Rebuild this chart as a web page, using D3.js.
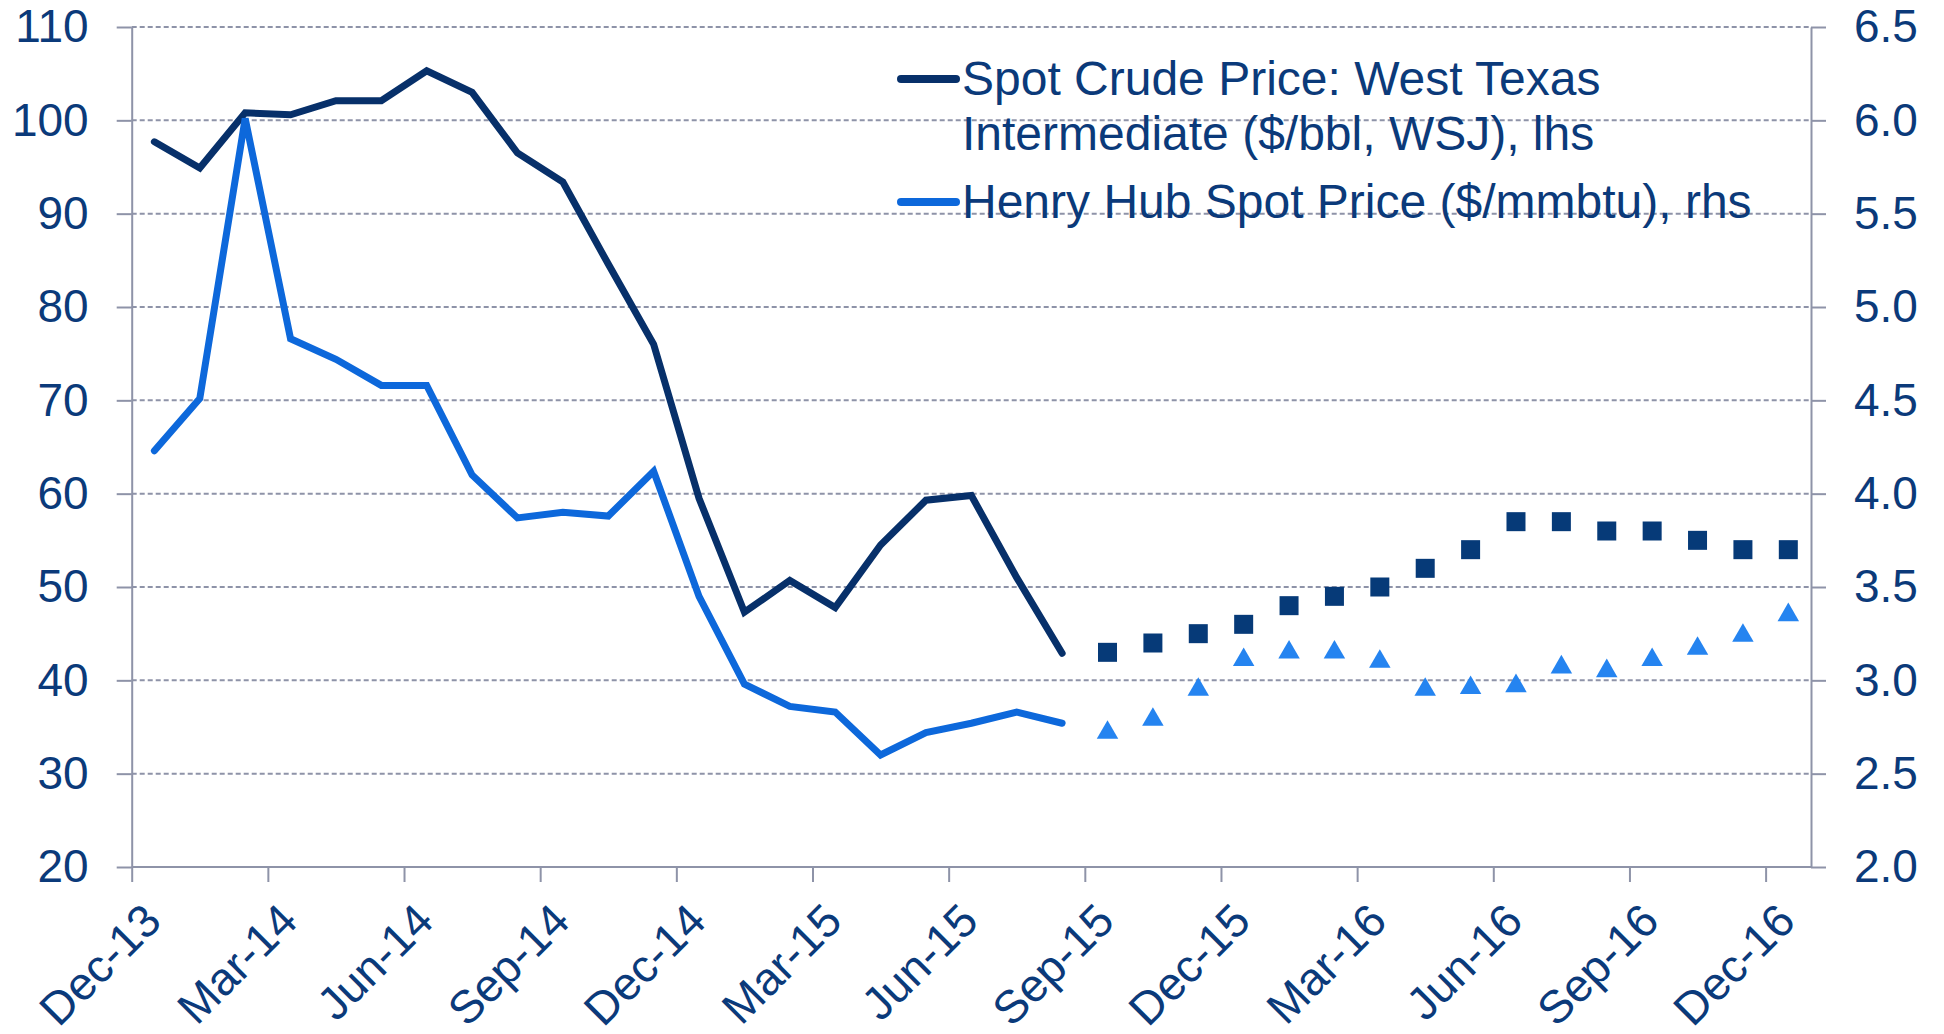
<!DOCTYPE html>
<html>
<head>
<meta charset="utf-8">
<script src="https://cdn.jsdelivr.net/npm/d3@7"></script>
<style>
  html, body { margin: 0; padding: 0; background: #fff; }
  svg text { font-family: "Liberation Sans", Arial, sans-serif; fill: #0B3A7A; }
</style>
</head>
<body>
<svg id="chart" width="1944" height="1034"></svg>
<script>
// month categories, Dec-13 .. Dec-16
var months = ["Dec-13","Jan-14","Feb-14","Mar-14","Apr-14","May-14","Jun-14","Jul-14","Aug-14","Sep-14","Oct-14","Nov-14",
              "Dec-14","Jan-15","Feb-15","Mar-15","Apr-15","May-15","Jun-15","Jul-15","Aug-15","Sep-15","Oct-15","Nov-15",
              "Dec-15","Jan-16","Feb-16","Mar-16","Apr-16","May-16","Jun-16","Jul-16","Aug-16","Sep-16","Oct-16","Nov-16","Dec-16"];

// WTI spot ($/bbl), Dec-13 .. Aug-15
var wti = [97.7, 94.9, 100.8, 100.6, 102.1, 102.1, 105.3, 103.0, 96.5, 93.4, 84.6, 76.0,
           59.5, 47.3, 50.7, 47.8, 54.5, 59.3, 59.8, 51.0, 42.9];
// WTI forecast, Sep-15 .. Dec-16
var wtiForecast = [43, 44, 45, 46, 48, 49, 50, 52, 54, 57, 57, 56, 56, 55, 54, 54];

// Henry Hub spot ($/mmbtu), Dec-13 .. Aug-15
var hh = [4.23, 4.51, 6.01, 4.83, 4.72, 4.58, 4.58, 4.10, 3.87, 3.90, 3.88, 4.12,
          3.45, 2.98, 2.86, 2.83, 2.60, 2.72, 2.77, 2.83, 2.77];
// Henry Hub forecast, Sep-15 .. Dec-16
var hhForecast = [2.72, 2.79, 2.95, 3.11, 3.15, 3.15, 3.10, 2.95, 2.96, 2.97, 3.07, 3.05, 3.11, 3.17, 3.24, 3.35];

var leftTicks = [20, 30, 40, 50, 60, 70, 80, 90, 100, 110];
var rightTicks = [2.0, 2.5, 3.0, 3.5, 4.0, 4.5, 5.0, 5.5, 6.0, 6.5];
var legendLabels = [["Spot Crude Price: West Texas", "Intermediate ($/bbl, WSJ), lhs"],
                    ["Henry Hub Spot Price ($/mmbtu), rhs"]];

var textColor = "#0B3A7A", gridColor = "#8E93A8";
var wtiColor = "#07306A", hhColor = "#0D68DB", sqColor = "#063A78", triColor = "#2584F0";

var plotLeft = 131.7, plotRight = 1811, plotTop = 27, plotBottom = 867;
var svg = d3.select("#chart");

// index based x scale, points sit in the middle of each month
var x = d3.scaleLinear().domain([0, months.length]).range([plotLeft, plotRight]);
var yL = d3.scaleLinear().domain([20, 110]).range([plotBottom, plotTop]);
var yR = d3.scaleLinear().domain([2, 6.5]).range([plotBottom, plotTop]);

// dashed gridlines
svg.append("g").selectAll("line")
    .data(leftTicks.slice(1))
    .enter().append("line")
    .attr("x1", plotLeft).attr("x2", plotRight)
    .attr("y1", function(d){ return yL(d); })
    .attr("y2", function(d){ return yL(d); })
    .attr("stroke", gridColor)
    .attr("stroke-width", 2)
    .attr("stroke-dasharray", "5,3");

function styleAxis(g)
{
    g.select(".domain").attr("stroke", gridColor).attr("stroke-width", 2);
    g.selectAll(".tick line").attr("stroke", gridColor).attr("stroke-width", 2);
    g.selectAll(".tick text").attr("fill", textColor).style("font-size", "46px");
}

var axL = svg.append("g")
    .attr("transform", "translate(" + plotLeft + ",0)")
    .call(d3.axisLeft(yL).tickValues(leftTicks).tickSize(15).tickSizeOuter(0).tickPadding(28).tickFormat(d3.format("d")));
styleAxis(axL);

var axR = svg.append("g")
    .attr("transform", "translate(" + plotRight + ",0)")
    .call(d3.axisRight(yR).tickValues(rightTicks).tickSize(15).tickSizeOuter(0).tickPadding(28).tickFormat(d3.format(".1f")));
styleAxis(axR);

var tickIdx = d3.range(0, months.length, 3);
var axB = svg.append("g")
    .attr("transform", "translate(0," + plotBottom + ")")
    .call(d3.axisBottom(x).tickValues(tickIdx).tickSize(15).tickSizeOuter(0)
        .tickFormat(function(i){ return months[i]; }));
styleAxis(axB);
axB.select(".domain").attr("d", "M" + plotLeft + ",0H" + plotRight);
axB.selectAll(".tick text")
    .attr("text-anchor", "end")
    .attr("x", 0).attr("y", 0).attr("dy", "0.35em")
    .attr("transform", "translate(20,45) rotate(-45)");

// actual lines
var lineL = d3.line().x(function(d, i){ return x(i + 0.5); }).y(function(d){ return yL(d); });
var lineR = d3.line().x(function(d, i){ return x(i + 0.5); }).y(function(d){ return yR(d); });

svg.append("path").datum(wti)
    .attr("d", lineL).attr("fill", "none")
    .attr("stroke", wtiColor).attr("stroke-width", 7)
    .attr("stroke-linecap", "round").attr("stroke-linejoin", "miter");

svg.append("path").datum(hh)
    .attr("d", lineR).attr("fill", "none")
    .attr("stroke", hhColor).attr("stroke-width", 7)
    .attr("stroke-linecap", "round").attr("stroke-linejoin", "miter");

// forecast markers
var off = wti.length;
svg.append("g").selectAll("rect")
    .data(wtiForecast)
    .enter().append("rect")
    .attr("x", function(d, i){ return x(off + i + 0.5) - 9.5; })
    .attr("y", function(d){ return yL(d) - 9.5; })
    .attr("width", 19).attr("height", 19)
    .attr("fill", sqColor);

var tri = d3.symbol().type(d3.symbolTriangle).size(200);
svg.append("g").selectAll("path")
    .data(hhForecast)
    .enter().append("path")
    .attr("d", tri)
    .attr("transform", function(d, i){ return "translate(" + x(off + i + 0.5) + "," + yR(d) + ")"; })
    .attr("fill", triColor);

// legend
var legend = svg.append("g");
var legendY = [79, 202];
var legendColors = [wtiColor, hhColor];
legendLabels.forEach(function(lines, k){
    legend.append("line")
        .attr("x1", 901).attr("x2", 956)
        .attr("y1", legendY[k]).attr("y2", legendY[k])
        .attr("stroke", legendColors[k]).attr("stroke-width", 8)
        .attr("stroke-linecap", "round");
    lines.forEach(function(t, j){
        legend.append("text")
            .attr("x", 962)
            .attr("y", (k == 0 ? 95 : 218) + j * 55)
            .style("font-size", "48px")
            .text(t);
    });
});
</script>
</body>
</html>
